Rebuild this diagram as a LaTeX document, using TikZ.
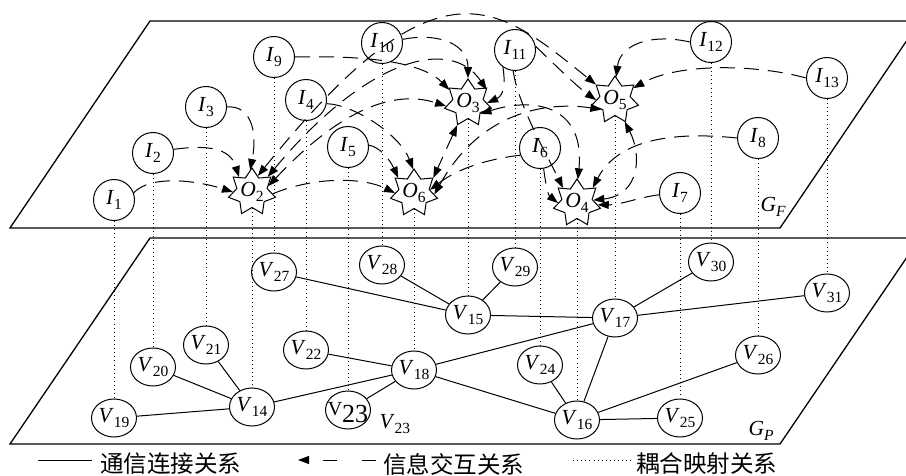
\documentclass[tikz,border=0pt]{standalone}
\usepackage{fontspec}
\setmainfont{Liberation Serif}
\newfontfamily\cjkfont{Noto Sans CJK SC}
\usetikzlibrary{shapes.geometric,arrows.meta}
% italic symbol with a lowered upright index
\newcommand\idx[2]{\textit{#1}\raisebox{-5.5pt}{\fontsize{15.5}{15.5}\selectfont #2}}
\begin{document}
\begin{tikzpicture}[x=1pt,y=1pt,
  >={Triangle[length=11pt,width=8pt]},
  txt/.style={font=\fontsize{21.5}{21.5}\selectfont},
  inode/.style={txt,circle,draw,line width=1pt,minimum size=41pt,inner sep=0pt},
  onode/.style={star,star points=7,star point ratio=1.55,draw,line width=1pt,minimum size=48pt,inner sep=0pt},
  vnode/.style={txt,ellipse,draw,line width=1pt,minimum width=45pt,minimum height=38pt,inner sep=0pt},
  plane/.style={line width=1.3pt},
  link/.style={line width=1pt},
  info/.style={line width=1pt,dash pattern=on 15pt off 9pt},
  couple/.style={line width=0.9pt,dash pattern=on 0.9pt off 3.2pt},
  legend/.style={font=\cjkfont\fontsize{23.5}{23.5}\selectfont,anchor=west,inner sep=0pt},
]
\useasboundingbox (0,0) rectangle (906,475);

% the two layers
\draw[plane] (10,247) -- (780,247) -- (920,454) -- (150,454) -- cycle;
\draw[plane] (10,31) -- (780,31) -- (920,237) -- (150,237) -- cycle;

% information layer G_F
\node[inode] (I1) at (114,275) {\idx{I}{1}};
\node[inode] (I2) at (153,322) {\idx{I}{2}};
\node[inode] (I3) at (206,368) {\idx{I}{3}};
\node[inode] (I4) at (306,375) {\idx{I}{4}};
\node[inode] (I5) at (348,328) {\idx{I}{5}};
\node[inode] (I6) at (540,327) {\idx{I}{6}};
\node[inode] (I7) at (680,282) {\idx{I}{7}};
\node[inode] (I8) at (758,337) {\idx{I}{8}};
\node[inode] (I9) at (274,418) {\idx{I}{9}};
\node[inode] (I10) at (382,432) {\idx{I}{10}};
\node[inode] (I11) at (515,425) {\idx{I}{11}};
\node[inode] (I12) at (711,433) {\idx{I}{12}};
\node[inode] (I13) at (827,397) {\idx{I}{13}};
\node[onode,label={[txt]center:{\idx{O}{2}}}] (O2) at (252,283) {};
\node[onode,label={[txt]center:{\idx{O}{3}}}] (O3) at (468,372) {};
\node[onode,label={[txt]center:{\idx{O}{4}}}] (O4) at (577,272) {};
\node[onode,label={[txt]center:{\idx{O}{5}}}] (O5) at (615,375) {};
\node[onode,label={[txt]center:{\idx{O}{6}}}] (O6) at (414,282) {};
\node[txt,anchor=base west] (GF) at (757,264) {\idx{G}{\textit{F}}};

% physical layer G_P
\node[vnode] (V14) at (252,68) {\idx{V}{14}};
\node[vnode] (V15) at (468,160) {\idx{V}{15}};
\node[vnode] (V16) at (577,55) {\idx{V}{16}};
\node[vnode] (V17) at (615,157) {\idx{V}{17}};
\node[vnode] (V18) at (414,105) {\idx{V}{18}};
\node[vnode] (V19) at (114,57) {\idx{V}{19}};
\node[vnode] (V20) at (153,108) {\idx{V}{20}};
\node[vnode] (V21) at (206,130) {\idx{V}{21}};
\node[vnode] (V22) at (306,125) {\idx{V}{22}};
\node[vnode,label={[yshift=-3pt,inner sep=0pt]center:{{\fontsize{20}{20}\selectfont V}\raisebox{-7pt}{\fontsize{26}{26}\selectfont 23}}}] (V23) at (348,65) {};
\node[txt,anchor=base west] (V23lab) at (376,47) {\idx{V}{23}};
\node[vnode] (V24) at (540,110) {\idx{V}{24}};
\node[vnode] (V25) at (680,57) {\idx{V}{25}};
\node[vnode] (V26) at (758,120) {\idx{V}{26}};
\node[vnode] (V27) at (274,203) {\idx{V}{27}};
\node[vnode] (V28) at (382,210) {\idx{V}{28}};
\node[vnode] (V29) at (515,208) {\idx{V}{29}};
\node[vnode] (V30) at (711,213) {\idx{V}{30}};
\node[vnode] (V31) at (827,182) {\idx{V}{31}};
\node[txt,anchor=base west] (GP) at (745,40) {\idx{G}{\textit{P}}};

% coupling mapping between the layers
\foreach \a/\b in {I1/V19,I2/V20,I3/V21,O2/V14,I9/V27,I4/V22,I5/V23,I10/V28,
                   O6/V18,O3/V15,I11/V29,I6/V24,O4/V16,O5/V17,I7/V25,I12/V30,I8/V26,I13/V31}
  \draw[couple] (\a) -- (\b);

% communication links
\foreach \a/\b in {V19/V14,V20/V14,V21/V14,V14/V18,V22/V18,V23/V18,V18/V17,V18/V16,
                   V27/V15,V28/V15,V29/V15,V15/V17,V17/V30,V17/V31,V17/V16,V24/V16,V16/V25,V16/V26}
  \draw[link] (\a) -- (\b);

% information interaction
\draw[info,->] (I1.20) .. controls (150,300) and (195,295) .. (O2.180);
\draw[info,->] (I2.10) .. controls (205,330) and (230,328) .. (O2.131);
\draw[info,->] (I3.0) .. controls (250,370) and (258,345) .. (O2.95);
\draw[info,<->] (O2.70) .. controls (440,525) and (498,469) .. (O5.141);
\draw[info,<->] (O2.44) .. controls (365,415) and (450,440) .. (O3.35);
\draw[info,<->] (O2.20) .. controls (335,360) and (390,387) .. (O3.188);
\draw[info,->] (O2.355) .. controls (310,297) and (360,299) .. (O6.180);
\draw[info,->] (I9.0) .. controls (380,420) and (425,410) .. (O3.145);
\draw[info,->] (I10.10) .. controls (440,443) and (468,430) .. (O3.90);
\draw[info,->] (I11.235) .. controls (505,395) and (505,380) .. (O3.0);
\draw[info,->] (I4.350) .. controls (355,370) and (400,340) .. (O6.92);
\draw[info,->] (I5.5) .. controls (380,328) and (390,315) .. (O6.136);
\draw[info,<->] (O3.244) -- (O6.38);
\draw[info,->] (I6.200) .. controls (505,318) and (465,312) .. (O6.11);
\draw[info,<->] (O6.356) .. controls (485,372) and (560,372) .. (O5.215);
\draw[info,<->] (O3.319) .. controls (540,380) and (585,365) .. (O4.88);
\draw[info,->] (I11.265) .. controls (518,370) and (548,318) .. (O4.133);
\draw[info,->] (I6.280) .. controls (545,295) and (548,280) .. (O4.180);
\draw[info,->] (I8.180) .. controls (660,345) and (615,330) .. (O4.44);
\draw[info,->] (I7.185) .. controls (640,278) and (620,270) .. (O4.355);
\draw[info,<->] (O4.10) .. controls (640,280) and (642,320) .. (O5.294);
\draw[info,->] (I12.180) .. controls (650,442) and (620,430) .. (O5.87);
\draw[info,->] (I13.180) .. controls (760,410) and (680,413) .. (O5.33);
\draw[info,->] (I11.10) .. controls (550,415) and (575,390) .. (O5.180);

% legend
\coordinate (k0) at (38,15);  \coordinate (k1) at (92,15);
\draw[link] (k0) -- (k1);
\node[legend] (k2) at (100,11) {通信连接关系};
\coordinate (k3) at (298,15); \coordinate (k4) at (376,15);
\draw[line width=1pt,dash pattern=on 14pt off 25pt,->] (k4) -- (k3);
\node[legend] (k5) at (383,11) {信息交互关系};
\coordinate (k6) at (573,15); \coordinate (k7) at (633,15);
\draw[couple] (k6) -- (k7);
\node[legend] (k8) at (636,11) {耦合映射关系};
\end{tikzpicture}
\end{document}
